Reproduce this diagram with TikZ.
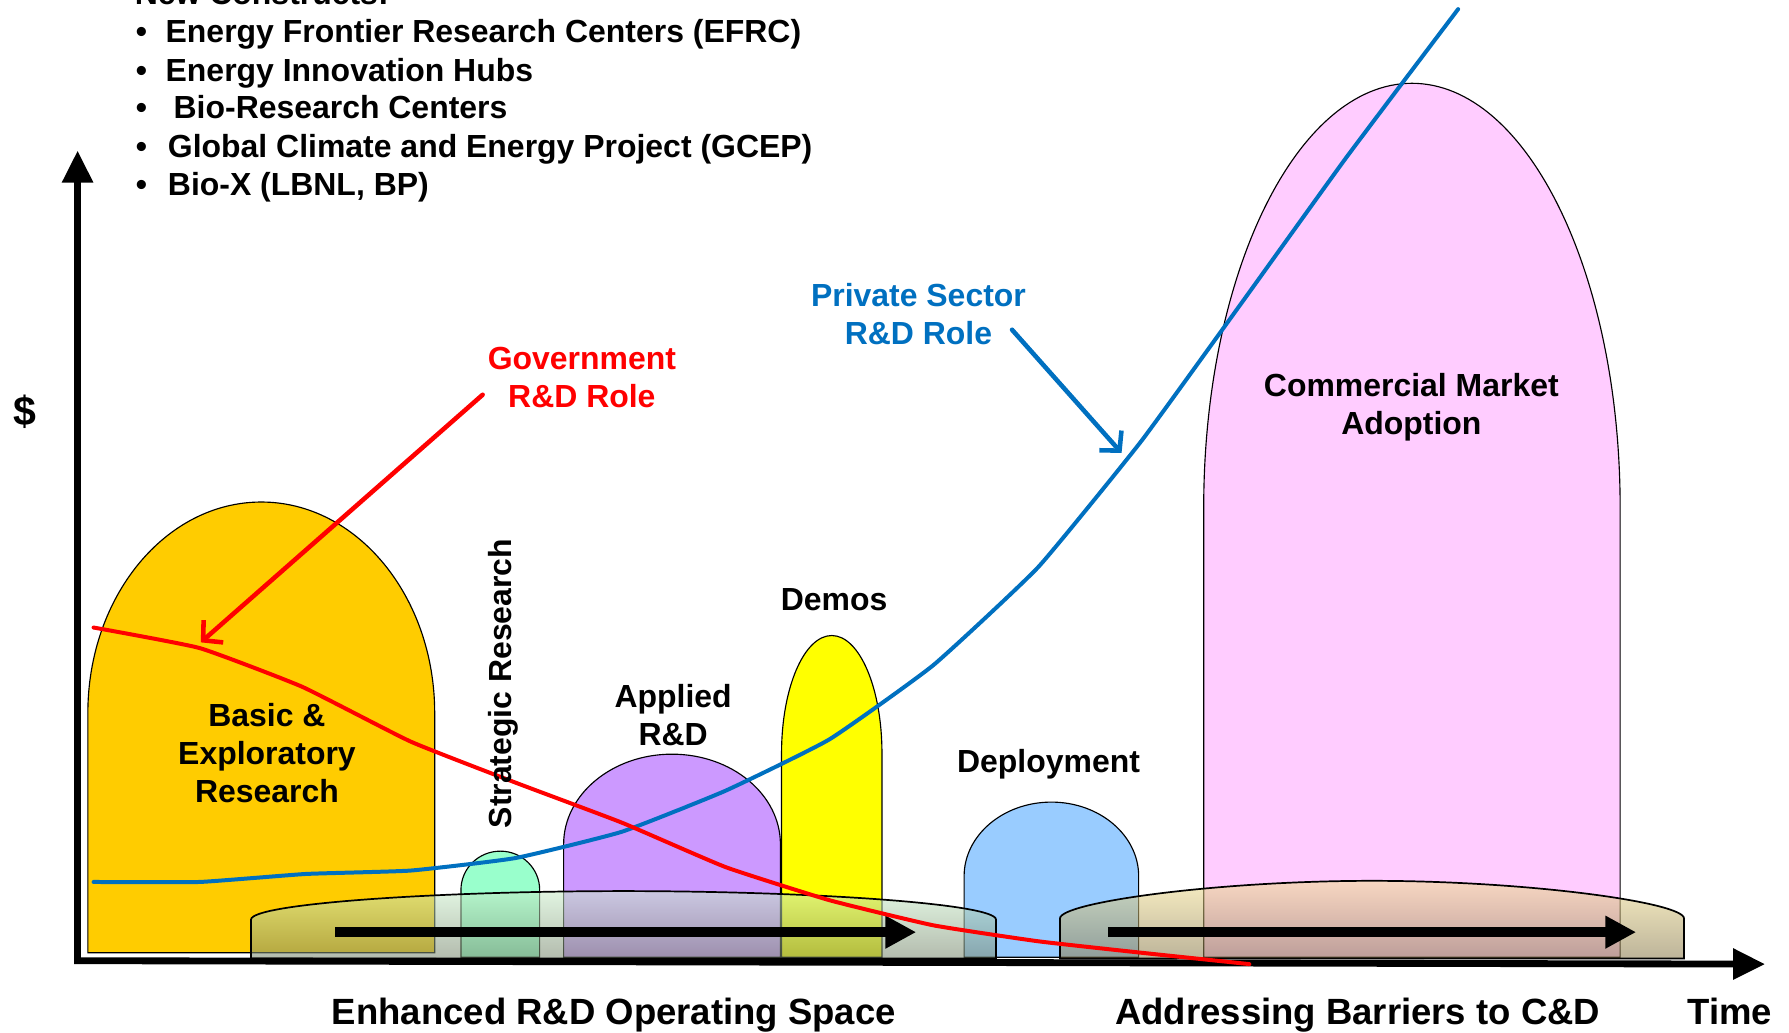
\documentclass[tikz,border=0pt]{standalone}
\usepackage{fontspec}
\setmainfont{Liberation Sans}
\usetikzlibrary{arrows.meta}
\definecolor{cOrange}{HTML}{FFCC00}
\definecolor{cGreen}{HTML}{99FFCC}
\definecolor{cPurple}{HTML}{CC99FF}
\definecolor{cYellow}{HTML}{FFFF00}
\definecolor{cBlue}{HTML}{99CCFF}
\definecolor{cPink}{HTML}{FFCCFF}
\definecolor{cBlueLine}{HTML}{0070C0}
\definecolor{lTop}{RGB}{202,237,202}
\definecolor{lBot}{RGB}{120,135,110}
\definecolor{rTop}{RGB}{242,224,146}
\definecolor{rBot}{RGB}{138,122,75}
\newcommand{\mydome}[6]{%
  \pgfmathsetmacro\dmcx{(#2+#3)/2}%
  \pgfmathsetmacro\dmkx{0.5523*(#3-#2)/2}%
  \pgfmathsetmacro\dmky{0.5523*(#5-#4)}%
  \path[#1] (#2,#6) -- (#2,#5) .. controls (#2,#5-\dmky) and (\dmcx-\dmkx,#4) .. (\dmcx,#4)
     .. controls (\dmcx+\dmkx,#4) and (#3,#5-\dmky) .. (#3,#5) -- (#3,#6) -- cycle;}
\newcommand{\mybar}[6]{%
  \pgfmathsetmacro\dmcx{(#2+#3)/2}%
  \pgfmathsetmacro\dmkx{0.25*(#3-#2)}%
  \path[#1] (#2,#6) -- (#2,#5) .. controls (#2,#5-14) and (#2+\dmkx,#4) .. (\dmcx,#4)
     .. controls (#3-\dmkx,#4) and (#3,#5-14) .. (#3,#5) -- (#3,#6) -- cycle;}
\begin{document}
\begin{tikzpicture}[x=1pt,y=-1pt,
  lab/.style={font=\fontsize{28}{33.5}\selectfont\bfseries, align=center, inner sep=0pt},
  big/.style={font=\fontsize{32}{38}\selectfont\bfseries, inner sep=0pt},
  domeline/.style={draw=black, line width=1pt},
  barshape/.style={draw=black, line width=1.5pt, fill opacity=0.56, draw opacity=1},
  bararrow/.style={line width=8.5pt, -{Triangle[length=27pt,width=27pt]}},
  axisline/.style={line width=6pt, -{Triangle[length=28pt,width=26pt]}},
  redline/.style={draw=red, line width=3.5pt, line join=round, line cap=round},
  blueline/.style={draw=cBlueLine, line width=3.5pt, line join=round, line cap=round},
  callout/.style={line width=4pt, line cap=round, -{Straight Barb[length=12pt,width=26pt,line width=4pt]}}]
\useasboundingbox (0,0) rectangle (1568,905);
\fill[white] (0,0) rectangle (1568,905);
\begin{scope}
\clip (0,0) rectangle (1568,905);
% domes
\mydome{domeline, fill=cOrange}{77}{381}{440}{625}{835}
\mydome{domeline, fill=cGreen}{404}{473}{746}{780}{839}
\mydome{domeline, fill=cPurple}{494}{684}{661}{740}{839}
\mydome{domeline, fill=cYellow}{685}{773}{557}{660}{839}
\mydome{domeline, fill=cBlue}{845}{998}{703}{768}{839}
\mydome{domeline, fill=cPink}{1055}{1420}{73}{445}{839}
% translucent bars
\mybar{barshape, top color=lTop, bottom color=lBot}{220}{873}{781}{806}{840}
\mybar{barshape, top color=rTop, bottom color=rBot}{929}{1476}{772}{805}{840}
% arrows in bars
\coordinate (la1) at (294,817);
\coordinate (la2) at (803,817);
\coordinate (ra1) at (971,817);
\coordinate (ra2) at (1434,817);
\draw[bararrow] (la1) -- (la2);
\draw[bararrow] (ra1) -- (ra2);
% axes
\coordinate (origin) at (68,842);
\coordinate (ytip) at (68,132);
\coordinate (xstart) at (65,842);
\coordinate (xtip) at (1547,845);
\draw[axisline] (origin) -- (ytip);
\draw[axisline] (xstart) -- (xtip);
% curves
\draw[blueline] plot[smooth, tension=0.25] coordinates {(82,773) (175,773) (268,766) (360,763) (452,752) (545,729) (636,693) (727,648) (818,583) (910,497) (1000,387) (1090,263) (1180,138) (1278,8)};
\draw[redline] plot[smooth, tension=0.25] coordinates {(82,550) (175,568) (265,602) (360,650) (452,686) (545,721) (636,760) (727,789) (818,811) (910,825) (1000,835) (1095,845)};
% labels
\node[lab] (basic) at (234,660) {Basic \&\\Exploratory\\Research};
\node[lab, rotate=90] (strat) at (441,599) {Strategic Research};
\node[lab] (applied) at (590,627) {Applied\\R\&D};
\node[lab] (demos) at (731,526) {Demos};
\node[lab] (deploy) at (919,670) {Deployment};
\node[lab] (comm) at (1237,357) {Commercial Market\\Adoption};
\node[lab, text=red] (gov) at (510,331) {Government\\R\&D Role};
\node[lab, text=cBlueLine] (priv) at (805,275) {Private Sector\\R\&D Role};
\coordinate (govA) at (423,346);
\coordinate (govB) at (176,563);
\coordinate (privA) at (887,289);
\coordinate (privB) at (983,397);
\draw[callout, draw=red] (govA) -- (govB);
\draw[callout, draw=cBlueLine] (privA) -- (privB);
\node[font=\fontsize{36}{40}\selectfont\bfseries, inner sep=0pt] (dollar) at (22,361) {\$};
\node[big, anchor=base] (enh) at (538,898) {Enhanced R\&D Operating Space};
\node[big, anchor=base] (addr) at (1190,898) {Addressing Barriers to C\&D};
\node[big, anchor=base] (time) at (1516,898) {Time};
% header
\node[lab, anchor=base west] (hdr) at (118,4) {New Constructs:};
\node[lab, anchor=base] (b1) at (124,37) {\textbullet};
\node[lab, anchor=base] (b2) at (124,71) {\textbullet};
\node[lab, anchor=base] (b3) at (124,104) {\textbullet};
\node[lab, anchor=base] (b4) at (124,138) {\textbullet};
\node[lab, anchor=base] (b5) at (124,171) {\textbullet};
\node[lab, anchor=base west] (t1) at (145,37) {Energy Frontier Research Centers (EFRC)};
\node[lab, anchor=base west] (t2) at (145,71) {Energy Innovation Hubs};
\node[lab, anchor=base west] (t3) at (152,104) {Bio-Research Centers};
\node[lab, anchor=base west] (t4) at (147,138) {Global Climate and Energy Project (GCEP)};
\node[lab, anchor=base west] (t5) at (147,171) {Bio-X (LBNL, BP)};
\end{scope}
\end{tikzpicture}
\end{document}
